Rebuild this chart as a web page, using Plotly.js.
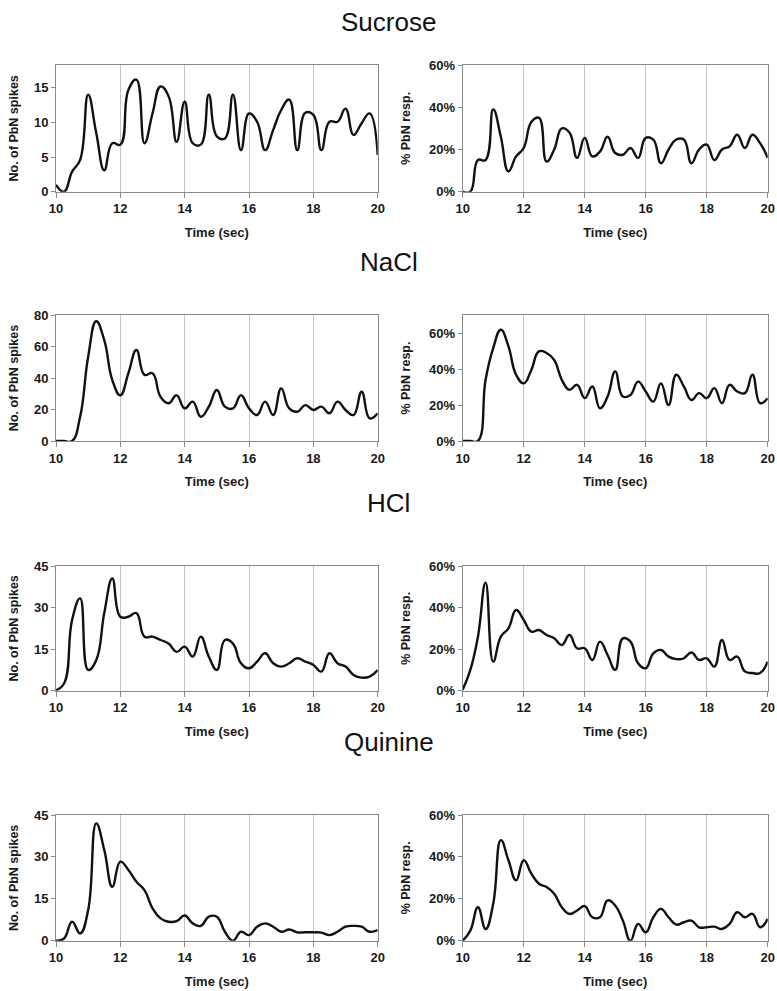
<!DOCTYPE html>
<html>
<head>
<meta charset="utf-8">
<script src="https://cdn.plot.ly/plotly-3.0.1.min.js"></script>
<style>html,body{margin:0;padding:0;background:#fff;}#chart{width:777px;height:991px;}</style>
</head>
<body>
<div id="chart"></div>
<script>
// Time bins (sec)
var time = [10,10.25,10.5,10.75,11,11.25,11.5,11.75,12,12.25,12.5,12.75,13,13.25,13.5,13.75,14,14.25,14.5,14.75,15,15.25,15.5,15.75,16,16.25,16.5,16.75,17,17.25,17.5,17.75,18,18.25,18.5,18.75,19,19.25,19.5,19.75,20];

var tastants = ["Sucrose", "NaCl", "HCl", "Quinine"];

// No. of PbN spikes
var sucroseSpikes = [1,0,2.9,4.6,14,8.5,3.1,7,6.8,14.7,16.2,7,11.3,15.2,13.8,7.2,13,7,6.8,14,8,7.7,14,6,11.3,10.1,6,8.9,11.8,13.3,6,11.4,11.1,6,10.1,10.1,12,8.2,9.9,11.3,5.3];
var naclSpikes = [0,0,0,15.4,53.5,76,64,38.7,29,43,57.8,42,43,28,24,29,20.7,25,15.4,21.8,32.4,21.8,20.7,29,20.7,16.5,25,16.5,33.4,20.7,18.6,22.8,19.7,21.8,17.6,25,19.7,16.5,31.3,14.4,17.6];
var hclSpikes = [0.2,2.6,25.5,33.3,7.5,11,28,40.5,26.7,26.7,28,19.5,19.5,18.3,17,14,15.9,12.3,19.5,12.3,7.5,18.3,17,9.9,8.1,10.5,13.5,9.9,8.7,9.9,11.7,10.5,9.3,6.9,13.5,9.9,8.7,5.7,4.7,5.1,7.5];
var quinineSpikes = [0,0.8,6.8,2.6,11,42,32.5,19.3,28.3,25.3,21.1,18.1,11.6,8,6.8,7,9,6.2,5.3,8.6,8.6,3.2,0,3.2,2,5,6.2,5,3.2,4,3,3,3,2.9,2,3.2,5,5.3,5,3.2,3.8];

// % PbN responding
var sucrosePct = [0,0,15,15,39,26,9.6,16.7,20.7,33,35,14.3,20,30,28,16,25.5,16.7,19,26,18.3,17.5,20.7,16,25.5,24.7,13.5,20,24.7,24.7,13.5,20,22.3,15,20,21.5,27,20.7,27,23,16];
var naclPct = [0,0,0,34,51.6,61.8,52.6,36.8,32,39.5,49.8,48.9,45,34,28.4,31.2,23.8,30.3,18.2,24.7,38.7,24.7,25.6,33,27.5,21.9,32,20,36.8,30.3,22.8,26.6,23.8,29.4,21,31.2,27.5,26.6,36.8,21,23.8];
var hclPct = [0.5,10,26,52,14,26,30,38.8,34,28.4,29.2,26.8,25.2,22,26.8,20.4,20.4,14.8,23.6,17.2,10,25.2,23.6,13.2,10.8,18,19.6,16.4,15.2,15.6,18.4,14.8,15.6,11.6,24.4,14.8,16.4,9.3,8.5,8.5,14];
var quininePct = [0,4.8,16,5.6,17.6,48,38.4,28.8,38.4,32,27.2,25.6,22.4,16,12.8,14.4,16.5,11.2,11.2,19.2,16.8,9.6,0,8,4,11.2,15.2,11.2,7.7,8.8,9.6,6.4,6.4,6.7,5.6,8,13.6,11.2,12.8,6.4,10.4];

var xTickVals = [10,12,14,16,18,20];
var spikesTicks = [[0,5,10,15],[0,20,40,60,80],[0,15,30,45],[0,15,30,45]];
var pctTicks = [[0,20,40,60],[0,20,40,60],[0,20,40,60],[0,20,40,60]];
var spikesRange = [[0,18.3],[0,80],[0,45],[0,45]];
var pctRange = [[0,60],[0,70],[0,60],[0,60]];

var spikesSeries = [sucroseSpikes, naclSpikes, hclSpikes, quinineSpikes];
var pctSeries = [sucrosePct, naclPct, hclPct, quininePct];

var W = 777, H = 991;
var leftPx = [56, 377.7], rightPx = [462.7, 767.7];
var rowsPx = [[65,191.7],[315,441],[566,690.7],[815,940.7]];
var titleY = [22, 262, 503, 742];

var FONT = "Liberation Sans, Arial, sans-serif";
var traces = [];
var layout = {
  width: W, height: H,
  margin: {l:0, r:0, t:0, b:0},
  paper_bgcolor: "#fff", plot_bgcolor: "#fff",
  showlegend: false,
  font: {family: FONT, color: "#111"},
  annotations: []
};

function axX(dom, anchor) {
  return {
    domain: dom, range: [10,20], tickvals: xTickVals, showgrid: true, gridcolor: "#c4c4c4", gridwidth: 1,
    zeroline: false, showline: true, linecolor: "#8a8a8a", linewidth: 1, mirror: true,
    ticks: "outside", ticklen: 5, tickcolor: "#8a8a8a", anchor: anchor,
    tickfont: {family: FONT, size: 13, weight: "bold", color: "#1a1a1a"},
    title: {text: "Time (sec)", font: {family: FONT, size: 13, weight: "bold", color: "#1a1a1a"}, standoff: 12},
    fixedrange: true
  };
}
function axY(dom, rng, ticks, suffix, title, anchor, standoff) {
  return {
    domain: dom, range: rng, tickmode: "array", tickvals: ticks,
    ticktext: ticks.map(function (v) { return v + suffix; }), showgrid: false,
    zeroline: false, showline: true, linecolor: "#8a8a8a", linewidth: 1, mirror: true,
    ticks: "outside", ticklen: 4, tickcolor: "#8a8a8a", anchor: anchor,
    tickfont: {family: FONT, size: 13, weight: "bold", color: "#1a1a1a"},
    title: {text: title, font: {family: FONT, size: 12.5, weight: "bold", color: "#1a1a1a"}, standoff: standoff},
    fixedrange: true
  };
}

for (var r = 0; r < 4; r++) {
  var yDom = [1 - rowsPx[r][1]/H, 1 - rowsPx[r][0]/H];
  var iL = 2*r + 1, iR = 2*r + 2;
  var xL = "x" + iL, yL = "y" + iL, xR = "x" + iR, yR = "y" + iR;
  var sfxL = iL === 1 ? "" : String(iL), sfxR = String(iR);
  layout["xaxis" + sfxL] = axX([leftPx[0]/W, leftPx[1]/W], yL);
  layout["yaxis" + sfxL] = axY(yDom, spikesRange[r], spikesTicks[r], "", "No. of PbN spikes", xL, 12);
  layout["xaxis" + sfxR] = axX([rightPx[0]/W, rightPx[1]/W], yR);
  layout["yaxis" + sfxR] = axY(yDom, pctRange[r], pctTicks[r], "%", "% PbN resp.", xR, 15);

  traces.push({x: time, y: spikesSeries[r], xaxis: xL, yaxis: yL, type: "scatter", mode: "lines",
    line: {color: "#111", width: 2.4, shape: "spline", smoothing: 1.3}, hoverinfo: "skip"});
  traces.push({x: time, y: pctSeries[r], xaxis: xR, yaxis: yR, type: "scatter", mode: "lines",
    line: {color: "#111", width: 2.4, shape: "spline", smoothing: 1.3}, hoverinfo: "skip"});

  layout.annotations.push({text: tastants[r], xref: "paper", yref: "paper", x: 0.5, y: 1 - titleY[r]/H,
    xanchor: "center", yanchor: "middle", showarrow: false,
    font: {family: FONT, size: 26, color: "#111"}});
}

Plotly.newPlot("chart", traces, layout, {staticPlot: true, displayModeBar: false});
</script>
</body>
</html>
